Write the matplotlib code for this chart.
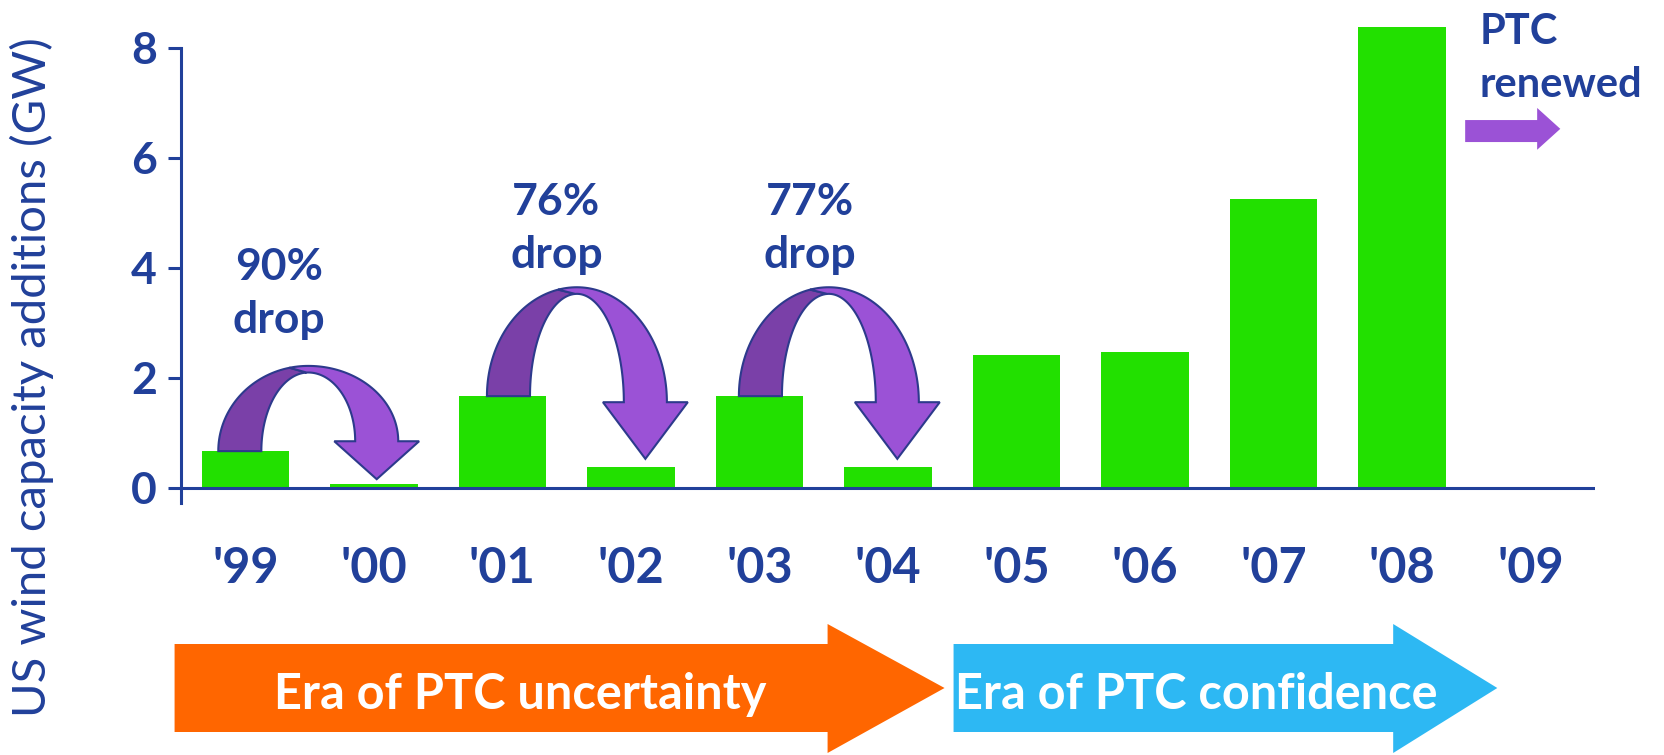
import numpy as np
import matplotlib.pyplot as plt
from matplotlib.patches import Polygon
from matplotlib.transforms import blended_transform_factory

# --- data ---
years = ["'99", "'00", "'01", "'02", "'03", "'04", "'05", "'06", "'07", "'08", "'09"]
additions_gw = [0.67, 0.07, 1.67, 0.38, 1.67, 0.38, 2.41, 2.47, 5.26, 8.39]

drop_labels = ['90%', '76%', '77%']
drop_from = [0, 2, 4]          # bar index where each drop arrow starts

# --- styling ---
NAVY = '#21409a'
GREEN = '#22e000'
PURPLE = '#9b52d6'
PURPLE_DARK = '#7a40a8'
OUTLINE = '#2d3a8c'
ORANGE = '#ff6600'
SKY = '#2db8f3'

plt.rcParams['font.family'] = ['Lato', 'DejaVu Sans']

W, H = 1664, 755
fig = plt.figure(figsize=(W / 100, H / 100), dpi=100)

# axes placed in pixels: y axis at x=181, x=0 line at y=488, 55 px per GW
px_gw = 55
zero_px = 488
ybot = -15 / px_gw
ytop = zero_px / px_gw
ax = fig.add_axes([181 / W, (H - zero_px - 15) / H, (1595 - 181) / W, (zero_px + 15) / H])
ax.set_xlim(-0.5, 10.5)
ax.set_ylim(ybot, ytop)

ax.bar(range(len(additions_gw)), additions_gw, width=0.68, color=GREEN, zorder=2)

for s in ['top', 'right', 'bottom']:
    ax.spines[s].set_visible(False)
ax.spines['left'].set_bounds(ybot, 8)
ax.spines['left'].set_color(NAVY)
ax.spines['left'].set_linewidth(2.2)
ax.axhline(0, color=NAVY, lw=2.2, zorder=3)

ax.set_yticks([0, 2, 4, 6, 8], ['0', '2', '4', '6', '8'], fontsize=32, fontweight='bold', color=NAVY)
ax.tick_params(axis='y', length=9.4, width=2.2, color=NAVY, pad=8)
ax.set_xticks(range(len(years)), years, fontsize=35, fontweight='bold', color=NAVY)
ax.tick_params(axis='x', length=0, pad=31)

fig.text(32 / W, 0.5, 'US wind capacity additions (GW)', rotation=90, ha='center', va='center',
         fontsize=34, color=NAVY)


# --- curved "drop" arrows ---
def drop_arrow(cx, y_start, y_end, top, tip, a_out=0.70, a_in=0.365, thin=0.12, hw=0.33):
    top_in = top - thin

    def pt(a, peak, th):
        yc = y_start if th > np.pi / 2 else y_end
        return (cx + a * np.cos(th), yc + (peak - yc) * np.sin(th))

    th_o, th_i = np.radians(102), np.radians(92)
    dark = [pt(a_out, top, t) for t in np.linspace(np.pi, th_o, 40)]
    dark += [pt(a_in, top_in, t) for t in np.linspace(th_i, np.pi, 40)]
    hc = cx + (a_out + a_in) / 2
    light = [pt(a_out, top, t) for t in np.linspace(th_o, 0, 60)]
    light += [(hc + hw, y_end), (hc, tip), (hc - hw, y_end)]
    light += [pt(a_in, top_in, t) for t in np.linspace(0, th_i, 60)]
    ax.add_patch(Polygon(dark, closed=True, fc=PURPLE_DARK, ec=OUTLINE, lw=1.5, zorder=4))
    ax.add_patch(Polygon(light, closed=True, fc=PURPLE, ec=OUTLINE, lw=1.5, zorder=5))


arc_shift = [0.49, 0.58, 0.54]
arc_peak = [2.22, 3.65, 3.65]
head_base = [0.85, 1.56, 1.56]
head_tip = [0.16, 0.53, 0.53]
label_x = [0.26, 2.42, 4.39]
label_base = [2.82, 4.0, 4.0]

for k, i in enumerate(drop_from):
    drop_arrow(i + arc_shift[k], additions_gw[i], head_base[k], arc_peak[k], head_tip[k])
    ax.text(label_x[k], label_base[k] + 0.97, drop_labels[k], ha='center', va='baseline',
            fontsize=32, fontweight='bold', color=NAVY, zorder=6)
    ax.text(label_x[k], label_base[k], 'drop', ha='center', va='baseline',
            fontsize=32, fontweight='bold', color=NAVY, zorder=6)

# PTC renewed note
ax.text(9.60, 8.07, 'PTC', ha='left', va='baseline', fontsize=30, fontweight='bold', color=NAVY)
ax.text(9.60, 7.11, 'renewed', ha='left', va='baseline', fontsize=30, fontweight='bold', color=NAVY)
ax.add_patch(Polygon([(9.49, 6.69), (10.05, 6.69), (10.05, 6.91), (10.23, 6.53),
                      (10.05, 6.15), (10.05, 6.29), (9.49, 6.29)],
                     closed=True, fc=PURPLE, ec='none', zorder=5, clip_on=False))

# --- era arrows under the axis (x in data units, y in figure fraction) ---
tr = blended_transform_factory(ax.transData, fig.transFigure)


def era_arrow(x0, x1, xtip, color):
    b0, b1 = (H - 732) / H, (H - 644) / H
    h0, h1 = (H - 753) / H, (H - 624) / H
    mid = (b0 + b1) / 2
    pts = [(x0, b0), (x1, b0), (x1, h0), (xtip, mid), (x1, h1), (x1, b1), (x0, b1)]
    fig.add_artist(Polygon(pts, closed=True, fc=color, ec='none', transform=tr, clip_on=False))


era_arrow(-0.55, 4.53, 5.44, ORANGE)
era_arrow(5.51, 8.93, 9.74, SKY)
base = (H - 709) / H
fig.text(2.14, base, 'Era of PTC uncertainty', transform=tr, ha='center', va='baseline',
         fontsize=35, fontweight='bold', color='white')
fig.text(5.52, base, 'Era of PTC confidence', transform=tr, ha='left', va='baseline',
         fontsize=35, fontweight='bold', color='white')

fig.savefig('out.png', dpi=100)
